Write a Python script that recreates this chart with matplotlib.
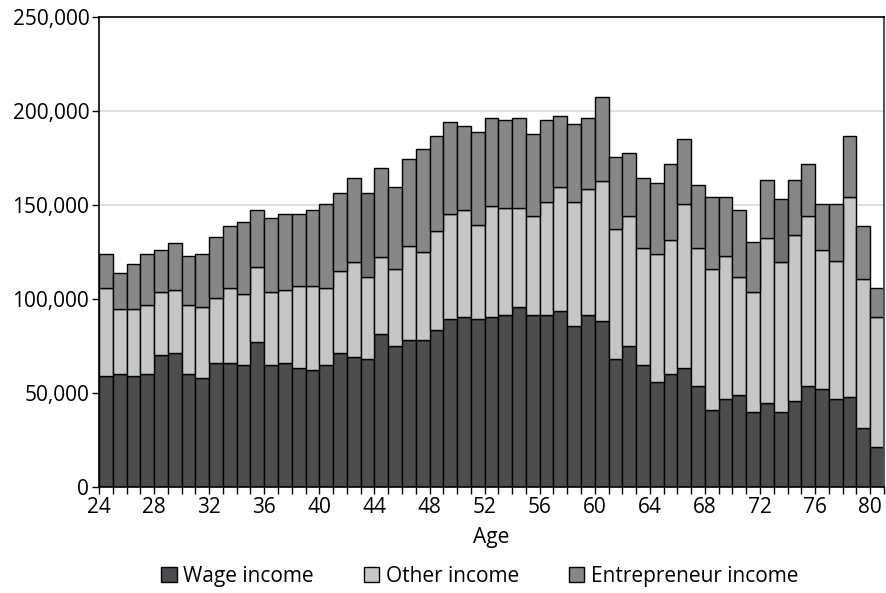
import matplotlib
matplotlib.use('Agg')
from matplotlib import pyplot as plt
from matplotlib.ticker import FuncFormatter
import numpy as np

plt.rcParams['font.family'] = ['Open Sans', 'DejaVu Sans']

ages = list(range(24, 81))

wage = [59030, 60100, 59030, 60100, 70230, 71120, 60100, 57960, 65790, 65790,
        64720, 76810, 64720, 65790, 63470, 62410, 64720, 71120, 69160, 67920,
        81080, 74680, 77880, 77880, 83570, 89260, 90140, 89260, 90140, 91390,
        95830, 91390, 91390, 93520, 85700, 91390, 88010, 67920, 74680, 64720,
        55650, 60100, 63300, 53520, 41070, 46760, 49070, 40000, 44630, 40000,
        45690, 53520, 52270, 46760, 47830, 31120, 20980]

# top of the "other" segment (wage + other)
wage_other = [105790, 94770, 94770, 96900, 103660, 104720, 96900, 95830, 100280, 105790,
              102590, 117000, 103660, 104720, 107040, 107040, 105790, 114860, 119480, 111480,
              122500, 115750, 128020, 124820, 136020, 144910, 147220, 139400, 149350, 148290,
              148290, 143840, 151660, 159490, 151660, 158420, 162860, 137260, 144020, 127130,
              123930, 131570, 150600, 127130, 115930, 122680, 111660, 103660, 132640, 119480,
              133880, 144020, 126060, 120370, 153970, 110410, 90320]

total = [124100, 113800, 118400, 123900, 126060, 129620, 122680, 123930, 132820, 138500,
         140640, 147400, 142770, 145080, 145080, 147400, 150600, 156290, 164110, 156290,
         169620, 159490, 174240, 179760, 186510, 194340, 192020, 188650, 196470, 195400,
         196470, 187580, 195400, 197540, 193090, 196470, 207490, 175310, 177440, 164290,
         161800, 171930, 185270, 160730, 153970, 153970, 147400, 130510, 163040, 152910,
         163040, 171930, 150600, 150600, 186510, 138500, 105970]

wage = np.array(wage)
other = np.array(wage_other) - wage
entrepreneur = np.array(total) - np.array(wage_other)

fig = plt.figure(figsize=(8.87, 5.93), dpi=100)
ax = fig.add_axes([0.1116, 0.179, 0.885, 0.7925])

x = np.arange(len(ages))
b1 = ax.bar(x, wage, width=1, align='edge', color='#4d4d4f', edgecolor='black', linewidth=1, label='Wage income', zorder=2)
b2 = ax.bar(x, other, bottom=wage, width=1, align='edge', color='#c5c6c8', edgecolor='black', linewidth=1, label='Other income', zorder=2)
b3 = ax.bar(x, entrepreneur, bottom=wage + other, width=1, align='edge', color='#878787', edgecolor='black', linewidth=1, label='Entrepreneur income', zorder=2)

# a couple of segments are a shade darker in the original
for a in [43, 73]:
    b3[ages.index(a)].set_facecolor('#737373')

ax.set_xlim(0, len(ages))
ax.set_ylim(0, 250000)
ax.set_yticks(np.arange(0, 250001, 50000))
ax.yaxis.set_major_formatter(FuncFormatter(lambda v, p: '{:,.0f}'.format(v)))
ax.yaxis.grid(True, color='#d9d9d9', linewidth=1.2, zorder=0)
ax.set_axisbelow(True)

ax.set_xticks(np.arange(0, len(ages) + 1), minor=True)
ax.set_xticks(np.arange(0, len(ages), 4))
ax.set_xticklabels([str(a) for a in ages[::4]])
ax.tick_params(axis='x', which='both', length=5, width=1, direction='out', labelsize=15, pad=2)
ax.tick_params(axis='y', length=5, width=1, direction='out', labelsize=15, pad=2)

for s in ['left', 'bottom', 'top']:
    ax.spines[s].set_color('black')
    ax.spines[s].set_linewidth(1.2)
ax.spines['right'].set_color('#555555')
ax.spines['right'].set_linewidth(1.5)

ax.set_xlabel('Age', fontsize=15, labelpad=7)

ax.legend(loc='upper center', bbox_to_anchor=(0.485, -0.128), ncol=3, frameon=False,
          fontsize=15, handlelength=0.75, handleheight=0.75, handletextpad=0.3, columnspacing=2.4)

plt.savefig('out.png', dpi=100)
